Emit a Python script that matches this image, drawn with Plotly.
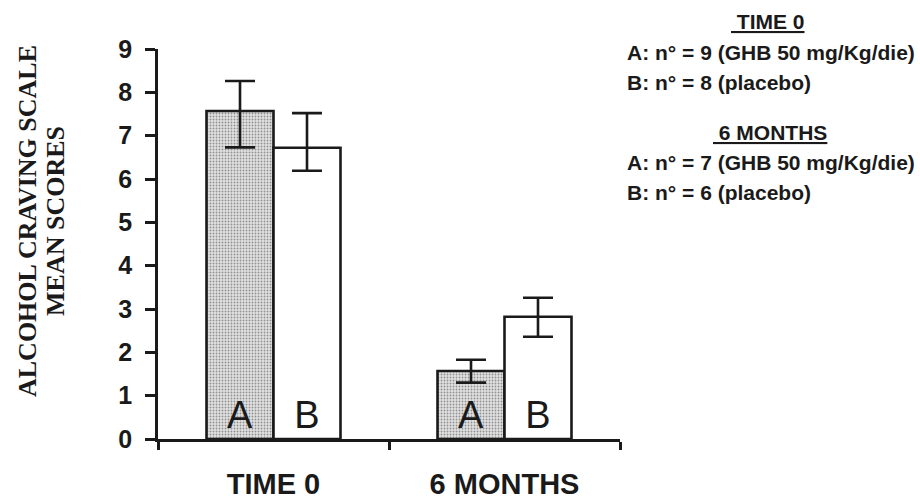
import plotly.graph_objects as go

# Study time points and treatment groups
timepoints = ["TIME 0", "6 MONTHS"]
group_labels = ["A", "B"]

# Mean craving scores per group at each time point
mean_a = [7.57, 1.57]
mean_b = [6.72, 2.82]

# Error bar extents (upper / lower) around each mean
err_a_plus = [0.69, 0.26]
err_a_minus = [0.84, 0.27]
err_b_plus = [0.80, 0.44]
err_b_minus = [0.53, 0.46]

# Group descriptions
legend_time0 = ["A: n° = 9 (GHB 50 mg/Kg/die)", "B: n° = 8 (placebo)"]
legend_6m = ["A: n° = 7 (GHB 50 mg/Kg/die)", "B: n° = 6 (placebo)"]

y_ticks = list(range(0, 10))

INK = "#1a1a1a"
SANS = "Liberation Sans, Arial, sans-serif"
SERIF = "Liberation Serif, Times New Roman, serif"

# plot area in pixels (used to place side texts in paper units)
L, R, T, B = 158, 300, 49, 61
W, H = 920, 500
PW, PH = W - L - R, H - T - B


def px_x(p):
    return (p - L) / PW


def px_y(p):
    return (H - B - p) / PH


fig = go.Figure()

fig.add_trace(go.Bar(
    x=timepoints, y=mean_a, name="A",
    text=[group_labels[0]] * len(timepoints),
    textposition="inside", insidetextanchor="start",
    textfont=dict(family=SANS, size=38, color=INK),
    constraintext="none",
    marker=dict(
        color="#d2d2d2",
        line=dict(color=INK, width=2.6),
        pattern=dict(shape=".", size=3, solidity=0.3,
                     fgcolor="#909090", bgcolor="#e2e2e2", fillmode="replace"),
    ),
    error_y=dict(type="data", symmetric=False, array=err_a_plus,
                 arrayminus=err_a_minus, color=INK, thickness=2.6, width=15),
))

fig.add_trace(go.Bar(
    x=timepoints, y=mean_b, name="B",
    text=[group_labels[1]] * len(timepoints),
    textposition="inside", insidetextanchor="start",
    textfont=dict(family=SANS, size=38, color=INK),
    constraintext="none",
    marker=dict(color="white", line=dict(color=INK, width=2.6)),
    error_y=dict(type="data", symmetric=False, array=err_b_plus,
                 arrayminus=err_b_minus, color=INK, thickness=2.6, width=15),
))

annotations = []

# two-line vertical axis title
for text, xp in [("ALCOHOL CRAVING SCALE", 27), ("MEAN SCORES", 55)]:
    annotations.append(dict(
        text=text, textangle=-90, showarrow=False,
        xref="paper", yref="paper", x=px_x(xp), y=px_y(221),
        xanchor="center", yanchor="middle",
        font=dict(family=SERIF, size=26, color=INK, weight="bold"),
    ))

# group description block on the right
blocks = [
    ("\u00a0TIME 0", 768, 21, legend_time0, [53, 82]),
    ("\u00a06 MONTHS", 770, 132, legend_6m, [162, 192]),
]
for head, hx, hy, lines, ys in blocks:
    annotations.append(dict(
        text=f"<u>{head}</u>", showarrow=False,
        xref="paper", yref="paper", x=px_x(hx), y=px_y(hy),
        xanchor="center", yanchor="middle",
        font=dict(family=SANS, size=21, color=INK, weight="bold"),
    ))
    for line, ly in zip(lines, ys):
        annotations.append(dict(
            text=line, showarrow=False,
            xref="paper", yref="paper", x=px_x(625), y=px_y(ly),
            xanchor="left", yanchor="middle",
            font=dict(family=SANS, size=21, color=INK, weight="bold"),
        ))

fig.update_layout(
    width=W, height=H,
    margin=dict(l=L, r=R, t=T, b=B, pad=0, autoexpand=False),
    paper_bgcolor="white", plot_bgcolor="white",
    barmode="group", bargap=0.42, bargroupgap=0,
    showlegend=False,
    annotations=annotations,
    xaxis=dict(
        range=[-0.5, 1.5], showline=True, linecolor=INK, linewidth=2.5,
        ticks="outside", tickson="boundaries", ticklen=8, tickwidth=2.5,
        tickcolor=INK, showgrid=False, zeroline=False, automargin=False,
        tickfont=dict(family=SANS, size=29, color=INK, weight="bold"),
        ticklabelstandoff=17,
    ),
    yaxis=dict(
        range=[0, 9], tickvals=y_ticks, showline=True, linecolor=INK,
        linewidth=2.5, ticks="outside", ticklen=10, tickwidth=2.5,
        tickcolor=INK, showgrid=False, zeroline=False, automargin=False,
        tickfont=dict(family=SANS, size=25, color=INK, weight="bold"),
        ticklabelstandoff=8,
    ),
)

fig.write_html("out.html")
